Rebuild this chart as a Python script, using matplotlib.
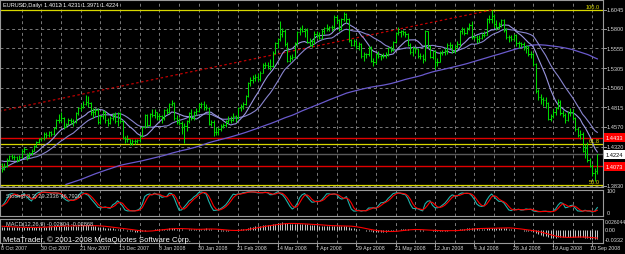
import matplotlib
matplotlib.use('Agg')
import matplotlib.pyplot as plt
import numpy as np
import pandas as pd
from matplotlib.transforms import blended_transform_factory as btf

plt.rcParams['font.family'] = ['Liberation Sans', 'DejaVu Sans']

W, H = 625, 255
BASE = 10000.0

# ---------------- data (prices in 1e-4 units above 1.0000) ----------------
pre_closes = [3440, 3450, 3440,
              3510, 3520, 3500, 3440, 3360, 3340, 3330, 3310, 3330, 3380,
              3370, 3390, 3420, 3400, 3460, 3440, 3450,
              3440, 3450, 3540,
              3620, 3610, 3620, 3620, 3680, 3670, 3760, 3750, 3790, 3800,
              3780, 3780, 3810, 3820, 3820, 3850, 3800, 3730, 3680, 3680,
              3710, 3690, 3630, 3670, 3820, 3790, 3790, 3830, 3730, 3680,
              3690, 3540, 3500, 3420, 3480, 3500, 3520, 3560, 3620, 3680,
              3650, 3650, 3610, 3660, 3630, 3630, 3620, 3690, 3720, 3780,
              3840, 3880, 3870, 3870, 3880, 3870, 3880, 3960, 4080, 4130,
              4110, 4140, 4130, 4140, 4260, 4180, 4140, 4120, 4140, 4100]

closes = [4040, 4070, 4155, 4200, 4190, 4185, 4150, 4190, 4270, 4290,
          4190, 4240, 4270, 4330, 4380, 4410, 4430, 4480, 4460, 4500,
          4480, 4550, 4650, 4660, 4680, 4570, 4600, 4650, 4640, 4630,
          4740, 4800, 4820, 4860, 4880, 4870, 4760, 4750, 4780, 4630,
          4700, 4750, 4650, 4620, 4680, 4720, 4640, 4740, 4640, 4430,
          4420, 4410, 4370, 4390, 4390, 4400, 4450, 4560, 4720,
          4590, 4730, 4720, 4750, 4700, 4700, 4680, 4780, 4760,
          4860, 4870, 4680, 4630, 4620, 4570, 4580, 4640, 4740, 4680,
          4750, 4770, 4850, 4860, 4820, 4810, 4610, 4630, 4500, 4500,
          4540, 4580, 4590, 4640, 4660, 4660, 4710, 4680, 4800, 4830,
          4860, 4960, 5120, 5160, 5180, 5200, 5170, 5250, 5350, 5350,
          5340, 5330, 5500, 5620, 5670, 5740, 5770, 5610, 5400, 5440,
          5450, 5620, 5760, 5800, 5780, 5790, 5630, 5600, 5650, 5740,
          5720, 5690, 5780, 5810, 5810, 5820, 5820, 5950, 5910, 5800,
          5920, 5990, 5920, 5660, 5600, 5650, 5580, 5610, 5460, 5480,
          5480, 5560, 5400, 5380, 5480, 5460, 5460, 5460, 5480, 5560,
          5540, 5630, 5750, 5760, 5770, 5760, 5740, 5600, 5510, 5560,
          5550, 5460, 5460, 5420, 5780, 5580, 5450, 5520, 5380, 5390,
          5500, 5510, 5520, 5600, 5600, 5520, 5580, 5610, 5770, 5800,
          5750, 5810, 5850, 5700, 5700, 5680, 5690, 5720, 5730, 5920,
          5930, 5960, 5860, 5830, 5860, 5910, 5790, 5700, 5700, 5680,
          5720, 5620, 5620, 5610, 5570, 5580, 5480, 5480, 5360, 5020,
          4950, 4920, 4900, 4870, 4670, 4710, 4760, 4800, 4880, 4740,
          4720, 4660, 4740, 4760, 4680, 4540, 4470, 4480, 4270, 4300,
          4150, 4080, 3990, 4012, 4224]

highs = [4115, 4110, 4170, 4215, 4230, 4215, 4200, 4210, 4285, 4320,
         4240, 4255, 4290, 4345, 4395, 4425, 4440, 4500, 4500, 4515,
         4520, 4560, 4670, 4730, 4750, 4690, 4620, 4680, 4680, 4670,
         4760, 4820, 4850, 4890, 4966, 4960, 4880, 4800, 4810, 4800,
         4720, 4780, 4770, 4680, 4700, 4740, 4760, 4760, 4750, 4660,
         4450, 4460, 4420, 4420, 4420, 4420, 4460, 4580, 4730,
         4730, 4740, 4790, 4790, 4760, 4740, 4720, 4790, 4810,
         4870, 4900, 4880, 4720, 4680, 4640, 4620, 4660, 4760, 4790,
         4770, 4800, 4870, 4880, 4890, 4850, 4820, 4660, 4650, 4560,
         4560, 4610, 4620, 4660, 4700, 4700, 4740, 4720, 4820, 4860,
         4880, 4975, 5130, 5190, 5220, 5230, 5240, 5270, 5370, 5390,
         5380, 5420, 5520, 5630, 5690, 5903, 5810, 5800, 5640, 5470,
         5480, 5640, 5780, 5830, 5850, 5810, 5810, 5690, 5670, 5770,
         5770, 5760, 5800, 5830, 5860, 5840, 5850, 5980, 5970, 5920,
         5940, 6018, 6000, 5940, 5680, 5670, 5660, 5640, 5620, 5510,
         5500, 5580, 5580, 5430, 5500, 5520, 5490, 5500, 5510, 5570,
         5590, 5650, 5760, 5820, 5790, 5790, 5780, 5750, 5620, 5580,
         5570, 5560, 5500, 5490, 5790, 5780, 5600, 5540, 5530, 5440,
         5520, 5540, 5560, 5620, 5640, 5610, 5600, 5650, 5790, 5820,
         5810, 5830, 5880, 5900, 5730, 5730, 5720, 5750, 5780, 5940,
         5980, 6038, 5990, 5910, 5890, 5930, 5920, 5810, 5730, 5730,
         5740, 5740, 5650, 5640, 5640, 5600, 5590, 5520, 5500, 5370,
         5050, 4980, 4940, 4950, 4880, 4730, 4790, 4820, 4920, 4900,
         4780, 4740, 4770, 4810, 4790, 4690, 4560, 4530, 4500, 4350,
         4380, 4180, 4100, 4050, 4231]

lows = [4005, 4020, 4060, 4140, 4160, 4150, 4130, 4140, 4180, 4240,
        4150, 4180, 4220, 4260, 4320, 4370, 4390, 4400, 4430, 4440,
        4450, 4470, 4540, 4620, 4630, 4540, 4560, 4590, 4600, 4580,
        4620, 4720, 4770, 4800, 4840, 4820, 4720, 4680, 4720, 4600,
        4610, 4670, 4620, 4580, 4600, 4660, 4620, 4580, 4620, 4410,
        4370, 4380, 4345, 4340, 4350, 4370, 4380, 4440, 4550,
        4570, 4580, 4690, 4680, 4660, 4660, 4620, 4660, 4730,
        4740, 4830, 4650, 4610, 4590, 4480, 4360, 4510, 4620, 4660,
        4650, 4720, 4750, 4800, 4780, 4780, 4590, 4580, 4450, 4470,
        4470, 4520, 4550, 4570, 4600, 4620, 4640, 4630, 4670, 4770,
        4790, 4840, 4940, 5080, 5120, 5140, 5140, 5150, 5240, 5310,
        5300, 5280, 5320, 5480, 5560, 5650, 5700, 5590, 5380, 5390,
        5410, 5440, 5600, 5730, 5760, 5700, 5620, 5580, 5570, 5610,
        5690, 5670, 5680, 5740, 5780, 5770, 5780, 5800, 5870, 5780,
        5790, 5900, 5880, 5640, 5580, 5580, 5550, 5530, 5440, 5400,
        5430, 5460, 5390, 5340, 5360, 5440, 5410, 5430, 5440, 5460,
        5510, 5520, 5620, 5720, 5700, 5730, 5700, 5580, 5490, 5460,
        5500, 5440, 5420, 5370, 5400, 5560, 5430, 5420, 5290, 5330,
        5380, 5470, 5470, 5490, 5560, 5500, 5500, 5560, 5590, 5740,
        5730, 5740, 5790, 5680, 5670, 5620, 5630, 5670, 5700, 5720,
        5870, 5880, 5830, 5790, 5800, 5830, 5760, 5680, 5640, 5650,
        5660, 5590, 5560, 5570, 5540, 5500, 5460, 5440, 5330, 4990,
        4900, 4860, 4830, 4810, 4660, 4640, 4680, 4720, 4790, 4720,
        4690, 4620, 4640, 4700, 4660, 4520, 4440, 4420, 4250, 4180,
        4120, 4060, 3950, 3881, 3971]

first_open = 4100

date_labels = ['8 Oct 2007', '30 Oct 2007', '21 Nov 2007', '13 Dec 2007', '8 Jan 2008',
               '30 Jan 2008', '21 Feb 2008', '14 Mar 2008', '7 Apr 2008', '29 Apr 2008',
               '21 May 2008', '12 Jun 2008', '4 Jul 2008', '28 Jul 2008', '19 Aug 2008',
               '10 Sep 2008']
date_label_idx = [0, 16, 32, 48, 64, 80, 96, 112, 128, 144, 160, 176, 192, 208, 224, 240]

price_ticks = [1.6045, 1.5800, 1.5555, 1.5305, 1.5060, 1.4815, 1.4570, 1.4320, 1.4075, 1.3830]
price_tick_labels = ['1.6045', '1.5800', '1.5555', '1.5305', '1.5060', '1.4815', '1.4570',
                     '1.4320', '', '1.3830']

red_levels = [1.4433, 1.4073]
bid = 1.4224
fib_high, fib_low = 1.6038, 1.1632
fib_high_idx, fib_low_idx = 199, -494
fib_levels = [100.0, 61.8, 50.0, 38.2, 23.6, 0.0]

title = 'EURUSD,Daily  1.4012 1.4231 1.3971 1.4224'
stoch_title = 'Stoch(8,3,3) 29.2336 46.7920'
macd_title = 'MACD(12,26,9) -0.02804 -0.02868'
copyright_text = 'MetaTrader, \u00a9 2001-2008 MetaQuotes Software Corp.'

# ---------------- derived series ----------------
c = np.array(closes) / BASE + 1
h = np.array(highs) / BASE + 1
l = np.array(lows) / BASE + 1
o = np.concatenate([[first_open / BASE + 1], c[:-1]])
n = len(c)
idx = np.arange(n)
npre = len(pre_closes)
allc = pd.Series(np.concatenate([np.array(pre_closes) / BASE + 1, c]))

ma_long = allc.rolling(120).mean().values[npre:]
ma_10 = allc.rolling(10).mean().values[npre:]
ma_20 = allc.rolling(20).mean().values[npre:]

ema12 = allc.ewm(span=12, adjust=False).mean()
ema26 = allc.ewm(span=26, adjust=False).mean()
macd = (ema12 - ema26)
macd_sig = macd.rolling(9).mean().values[npre:]
macd = macd.values[npre:]

hs, ls, cs = pd.Series(h), pd.Series(l), pd.Series(c)
hh = hs.rolling(8, min_periods=1).max()
ll = ls.rolling(8, min_periods=1).min()
num = (cs - ll).rolling(3, min_periods=1).sum()
den = (hh - ll).rolling(3, min_periods=1).sum()
stk = (num / den * 100)
std = stk.rolling(3, min_periods=1).mean()

# ---------------- layout ----------------
fig = plt.figure(figsize=(W / 100, H / 100), dpi=100, facecolor='black')

def rect(x0, y0, x1, y1):
    return [x0 / W, 1 - y1 / H, (x1 - x0) / W, (y1 - y0) / H]

XPX0, XSTEP = 2.0, 2.46
XL = ((0 - XPX0) / XSTEP, (603 - XPX0) / XSTEP)

def price_at(ypx):
    return 1.6045 - (ypx - 10.5) * 0.0012585

ax = fig.add_axes(rect(0, 1, 603, 188))
axs = fig.add_axes(rect(0, 191, 603, 217))
axm = fig.add_axes(rect(0, 220, 603, 244))

GRID = '#7a7a7a'
FG = '#d8d8d8'
FS = 4.1

for a in (ax, axs, axm):
    a.set_facecolor('black')
    a.set_xlim(*XL)
    a.set_xticks([])
    a.set_yticks([])
    for s in a.spines.values():
        s.set_color('#9a9a9a')
        s.set_linewidth(0.8)
    for gi in range(8, n, 8):
        a.axvline(gi, color=GRID, lw=0.7, ls=(0, (3, 3)), zorder=0)

ylo, yhi = price_at(188), price_at(1)
ax.set_ylim(ylo, yhi)
for pt in price_ticks:
    ax.axhline(pt, color=GRID, lw=0.7, ls=(0, (3, 3)), zorder=0)

# fibonacci
for lv in fib_levels:
    ax.axhline(fib_low + (fib_high - fib_low) * lv / 100, color='#d8d800', lw=0.9, zorder=2)
ax.plot([fib_low_idx, fib_high_idx], [fib_low, fib_high], color='#c00000', lw=0.9,
        ls=(0, (2, 2)), zorder=2)
for lv in fib_levels:
    p = fib_low + (fib_high - fib_low) * lv / 100
    if ylo < p < yhi:
        ax.text(XL[1] - 1.2, p + 0.0008, '%.1f' % lv, color='#e0e000', fontsize=FS,
                ha='right', va='bottom', zorder=5, clip_on=True)

# red lines and bid line
for rl in red_levels:
    ax.axhline(rl, color='#e00000', lw=1.0, zorder=2)
ax.axhline(bid, color='#5a5a5a', lw=1.0, zorder=1)

# moving averages
ax.plot(idx, ma_long, color='#6a5acd', lw=0.9, zorder=3)
ax.plot(idx, ma_20, color='#8a86d0', lw=0.8, zorder=3)
ax.plot(idx, ma_10, color='#9a96e0', lw=0.8, zorder=3)

# OHLC bars
BARC = '#00d800'
ax.vlines(idx, l, h, color=BARC, lw=0.75, zorder=4)
ax.hlines(o, idx - 0.45, idx, color=BARC, lw=0.75, zorder=4)
ax.hlines(c, idx, idx + 0.45, color=BARC, lw=0.75, zorder=4)

ax.text(0.005, price_at(6), title, color='white', fontsize=FS, ha='left', va='center',
        transform=btf(ax.transAxes, ax.transData))

# right axis labels (main)
rt = btf(ax.transAxes, ax.transData)
for pt, lab in zip(price_ticks, price_tick_labels):
    if lab:
        ax.text(1 + 4 / 603, pt, lab, color=FG, fontsize=FS, ha='left', va='center',
                transform=rt, clip_on=False)
        ax.plot([1, 1 + 2.5 / 603], [pt, pt], color='#9a9a9a', lw=0.7, transform=rt,
                clip_on=False)
for rl in red_levels:
    ax.text(1 + 2.5 / 603, rl, '%.4f' % rl, color='white', fontsize=FS, ha='left', va='center',
            transform=rt, clip_on=False,
            bbox=dict(boxstyle='square,pad=0.35', fc='#ff0000', ec='none'))
ax.text(1 + 2.5 / 603, bid, '%.4f' % bid, color='black', fontsize=FS, ha='left', va='center',
        transform=rt, clip_on=False,
        bbox=dict(boxstyle='square,pad=0.35', fc='white', ec='none'))

# stochastic
def sto_at(ypx):
    return 100 - (ypx - 192) * (100 / 22.0)
axs.set_ylim(sto_at(217), sto_at(191))
axs.plot(idx, stk.values, color='#20b2aa', lw=0.8)
axs.plot(idx, std.values, color='#ff0000', lw=0.8)
axs.text(0.01, sto_at(197), stoch_title, color=FG, fontsize=FS, ha='left', va='center',
         transform=btf(axs.transAxes, axs.transData))
st = btf(axs.transAxes, axs.transData)
for v, lab in [(100, '100'), (0, '0')]:
    axs.text(1 + 4 / 603, v, lab, color=FG, fontsize=FS, ha='left', va='center',
             transform=st, clip_on=False)

# MACD
mtop, mbot = 0.026044, -0.0332
mslope = (mtop - mbot) / (241 - 223)
def macd_at(ypx):
    return mtop - (ypx - 223) * mslope
axm.set_ylim(macd_at(244), macd_at(220))
axm.vlines(idx, 0, macd, color='#c8c8c8', lw=0.7)
axm.plot(idx, macd_sig, color='#ff0000', lw=0.8)
mt = btf(axm.transAxes, axm.transData)
axm.text(0.01, macd_at(225), macd_title, color=FG, fontsize=FS, ha='left', va='center',
         transform=mt)
axm.text(0.005, macd_at(240), copyright_text, color='white', fontsize=5.6, ha='left',
         va='center', transform=mt)
for v, lab, fs in [(mtop, '0.026044', 3.6), (0.0, '0.00', FS), (mbot, '-0.0332', FS)]:
    axm.text(1 + 2 / 603, v, lab, color=FG, fontsize=fs, ha='left', va='center',
             transform=mt, clip_on=False)

# date labels
dt = btf(axm.transData, axm.transAxes)
for di, lab in zip(date_label_idx, date_labels):
    axm.plot([di, di], [0, -2.5 / 24], color='#9a9a9a', lw=0.7, transform=dt, clip_on=False)
    xoff = -0.3 if di < 240 else -1.0
    axm.text(di + xoff, -4.5 / 24, lab, color=FG, fontsize=3.8, ha='left', va='center',
             transform=dt, clip_on=False)

fig.savefig('out.png', dpi=100, facecolor='black')
